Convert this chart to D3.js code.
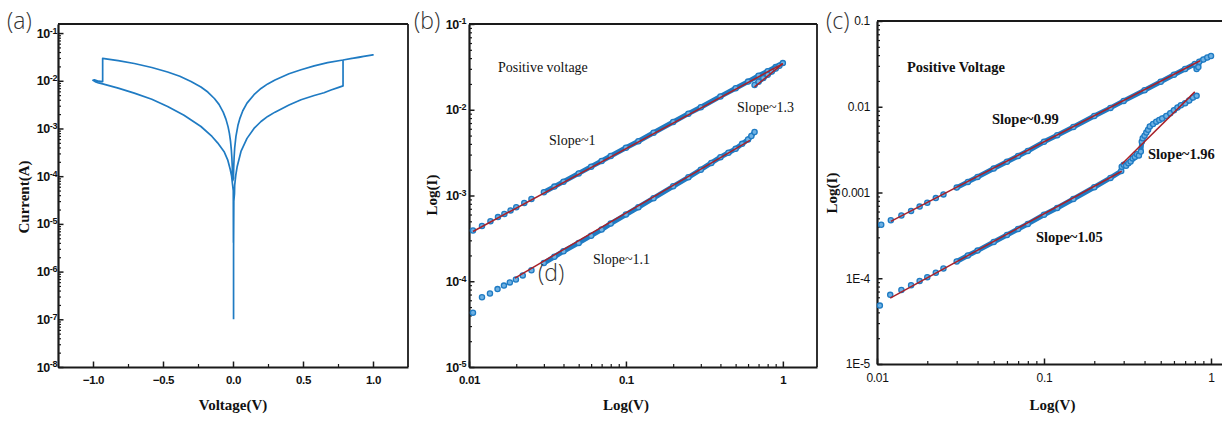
<!DOCTYPE html>
<html><head><meta charset="utf-8">
<script src="https://cdn.jsdelivr.net/npm/d3@7"></script>
<style>body{margin:0;background:#fff}svg{display:block}</style>
</head><body>
<svg id="c" width="1222" height="421"></svg>
<script>
// ---------------- DATA ----------------
// (a) I-V sweep, |I| in A, in sweep order
const aV = [0.004,0.004,0.006,0.0106,0.012,0.02,0.03,0.057,0.1,0.15,0.2,0.248,0.3,0.4,0.486,0.58,0.65,0.7,0.75,0.786,
  0.786,0.85,0.9,0.95,1.0,0.9,0.786,0.676,0.58,0.486,0.4,0.3,0.248,0.2,0.15,0.1,0.07,0.05,0.035,0.021,0.012,0.008,0.005,0.003,
  -0.002,-0.005,-0.008,-0.012,-0.018,-0.026,-0.035,-0.05,-0.07,-0.1,-0.133,-0.18,-0.229,-0.3,-0.38,-0.467,-0.58,-0.705,-0.82,-0.895,-0.931,
  -0.931,-0.96,-0.99,-1.0,-0.985,-0.96,-0.931,
  -0.82,-0.705,-0.58,-0.467,-0.35,-0.229,-0.15,-0.11,-0.062,-0.038,-0.02,-0.01,-0.004,0.002,0.003];
const aI = [1e-7,3e-6,3e-5,4.3e-5,6.5e-5,1.05e-4,1.6e-4,3.3e-4,6.2e-4,1.0e-3,1.4e-3,1.79e-3,2.2e-3,3.1e-3,4.0e-3,4.9e-3,5.6e-3,6.4e-3,7.2e-3,7.8e-3,
  2.73e-2,2.95e-2,3.1e-2,3.3e-2,3.5e-2,3.12e-2,2.72e-2,2.4e-2,2.05e-2,1.7e-2,1.4e-2,1.04e-2,8.6e-3,6.9e-3,5.1e-3,3.4e-3,2.35e-3,1.65e-3,1.15e-3,6.8e-4,3.9e-4,2.5e-4,1.5e-4,9e-5,
  8e-5,1.5e-4,2.4e-4,3.6e-4,5.5e-4,8e-4,1.08e-3,1.55e-3,2.2e-3,3.2e-3,4.25e-3,5.8e-3,7.4e-3,9.7e-3,1.24e-2,1.53e-2,1.9e-2,2.3e-2,2.65e-2,2.85e-2,2.95e-2,
  9.6e-3,9.8e-3,1.05e-2,1.02e-2,9.6e-3,9.0e-3,8.6e-3,
  7.0e-3,5.5e-3,4.1e-3,2.9e-3,1.9e-3,1.1e-3,6.8e-4,5.0e-4,3.2e-4,2.2e-4,1.4e-4,1.0e-4,7e-5,5e-5,4e-6];
const aXTicks = [-1.0,-0.5,0.0,0.5,1.0];
const aXMinor = [-0.75,-0.25,0.25,0.75];
const aYExp = [-8,-7,-6,-5,-4,-3,-2,-1];

// (b) log-log, positive voltage
const bUpV = [0.0106,0.0121,0.0137,0.0153,0.0168,0.0184,0.02,0.0225,0.025,0.03,0.035,0.04,0.05,0.06,0.07,0.08,0.1,0.12,0.15,0.2,0.25,0.3,0.4,0.5,0.6,0.7,0.8,0.9,1.0];
const bUpI = [3.9e-4,4.4e-4,5.0e-4,5.6e-4,6.1e-4,6.7e-4,7.3e-4,8.2e-4,9.1e-4,1.09e-3,1.27e-3,1.45e-3,1.81e-3,2.17e-3,2.53e-3,2.89e-3,3.6e-3,4.3e-3,5.4e-3,7.2e-3,9.0e-3,1.07e-2,1.43e-2,1.78e-2,2.13e-2,2.49e-2,2.82e-2,3.15e-2,3.5e-2];
const bHookV = [0.66,0.7,0.75,0.8,0.85,0.9,0.95];
const bHookI = [1.95e-2,2.12e-2,2.34e-2,2.56e-2,2.79e-2,3.02e-2,3.25e-2];
const bLowV = [0.0106,0.0121,0.0136,0.0152,0.0167,0.0182,0.0199,0.022,0.025,0.03,0.035,0.04,0.05,0.06,0.07,0.08,0.1,0.12,0.15,0.2,0.25,0.3,0.35,0.4,0.45,0.5,0.55,0.6,0.63,0.66];
const bLowI = [4.3e-5,6.5e-5,7.2e-5,8.1e-5,8.9e-5,9.7e-5,1.05e-4,1.17e-4,1.34e-4,1.63e-4,1.93e-4,2.24e-4,2.8e-4,3.4e-4,4.0e-4,4.7e-4,6.0e-4,7.3e-4,9.3e-4,1.28e-3,1.63e-3,2.0e-3,2.4e-3,2.8e-3,3.15e-3,3.5e-3,4.0e-3,4.5e-3,4.95e-3,5.5e-3];
const bFitUp = [[0.0106,3.8e-4],[1.0,3.45e-2]];
const bFitHook = [[0.66,1.85e-2],[1.0,3.45e-2]];
const bFitLow = [[0.0196,1.09e-4],[0.617,4.4e-3]];
const bXTicks = [0.01,0.1,1];
const bYExp = [-5,-4,-3,-2,-1];

// (c) log-log, positive voltage
const cUpV = [0.0106,0.0121,0.014,0.016,0.018,0.02,0.0225,0.025,0.03,0.035,0.04,0.05,0.06,0.07,0.08,0.1,0.12,0.15,0.2,0.25,0.3,0.4,0.5,0.6,0.7,0.8,0.82,0.84,0.85,0.9,0.95,1.0];
const cUpI = [4.2e-4,4.74e-4,5.4e-4,6.1e-4,6.85e-4,7.6e-4,8.6e-4,9.5e-4,1.14e-3,1.33e-3,1.52e-3,1.9e-3,2.28e-3,2.66e-3,3.05e-3,3.9e-3,4.65e-3,5.8e-3,7.8e-3,9.7e-3,1.17e-2,1.56e-2,1.96e-2,2.36e-2,2.76e-2,3.15e-2,2.75e-2,2.9e-2,3.35e-2,3.55e-2,3.75e-2,3.9e-2];
const cLowV = [0.0104,0.012,0.014,0.016,0.018,0.02,0.0225,0.025,0.03,0.035,0.04,0.05,0.06,0.07,0.08,0.1,0.12,0.15,0.2,0.25,0.29];
const cLowI = [4.8e-5,6.4e-5,7.3e-5,8.3e-5,9.3e-5,1.03e-4,1.16e-4,1.3e-4,1.57e-4,1.84e-4,2.1e-4,2.65e-4,3.2e-4,3.75e-4,4.3e-4,5.5e-4,6.6e-4,8.4e-4,1.15e-3,1.48e-3,1.78e-3];
const cHighV = [0.292,0.3,0.31,0.32,0.33,0.34,0.35,0.36,0.37,0.38,0.385,0.39,0.40,0.41,0.42,0.43,0.45,0.47,0.49,0.51,0.54,0.57,0.6,0.63,0.66,0.7,0.74,0.78,0.82];
const cHighI = [2.0e-3,2.1e-3,2.05e-3,2.2e-3,2.3e-3,2.5e-3,2.6e-3,2.8e-3,2.7e-3,3.0e-3,3.9e-3,4.3e-3,4.6e-3,5.0e-3,5.4e-3,5.9e-3,6.3e-3,6.7e-3,7.0e-3,7.3e-3,7.8e-3,8.4e-3,9.1e-3,9.8e-3,1.04e-2,1.1e-2,1.18e-2,1.28e-2,1.34e-2];
const cFitUp = [[0.0121,4.6e-4],[0.86,3.44e-2]];
const cFitLow = [[0.012,5.87e-5],[0.292,1.77e-3]];
const cFitHigh = [[0.292,2.13e-3],[0.80,1.49e-2]];
const cXTicks = [0.01,0.1,1];
const cYTicks = [1e-5,1e-4,1e-3,1e-2,1e-1];
const cYLabels = ["1E-5","1E-4","0.001","0.01","0.1"];

// ---------------- DRAW ----------------
const W = 1222, H = 421;
const svg = d3.select("#c");
svg.append("rect").attr("width", W).attr("height", H).attr("fill", "#fff");

const BLUE = "#1f7bc3", DOTF = "#6fb1e3", RED = "#a8222a", AX = "#1a1a1a";
const TICKFONT = "'Liberation Sans', Arial, sans-serif";
const SERIF = "'Liberation Serif', 'Times New Roman', serif";

function logMinor(lo, hi) { const o = []; for (let e = lo; e < hi; e++) for (let m = 2; m <= 9; m++) o.push(m * Math.pow(10, e)); return o; }

function axes(p) {
  const [L, R] = p.x.range(), [B, T] = p.y.range();
  const g = svg.append("g");
  const gxm = g.append("g").attr("transform", `translate(0,${B})`)
    .call(d3.axisBottom(p.x).tickValues(p.xMinor).tickSize(-3).tickSizeOuter(0).tickFormat(""));
  const gym = g.append("g").attr("transform", `translate(${L},0)`)
    .call(d3.axisLeft(p.y).tickValues(p.yMinor).tickSize(-3).tickSizeOuter(0).tickFormat(""));
  [gxm, gym].forEach(s => { s.select(".domain").remove(); s.selectAll("line").attr("stroke", AX).attr("stroke-width", 1.2); });
  const gx = g.append("g").attr("transform", `translate(0,${B})`)
    .call(d3.axisBottom(p.x).tickValues(p.xTicks).tickSize(-5.5).tickSizeOuter(0).tickPadding(9).tickFormat(p.xFmt));
  const gy = g.append("g").attr("transform", `translate(${L},0)`)
    .call(d3.axisLeft(p.y).tickValues(p.yTicks).tickSize(-5.5).tickSizeOuter(0).tickPadding(p.yPad).tickFormat(p.yFmt));
  [gx, gy].forEach(s => {
    s.select(".domain").attr("stroke", AX).attr("stroke-width", 2.2);
    s.selectAll(".tick line").attr("stroke", AX).attr("stroke-width", 1.5);
    s.selectAll(".tick text").attr("fill", "#111").attr("font-family", TICKFONT)
      .attr("font-size", p.tickSize).attr("font-weight", p.tickWeight).attr("letter-spacing", p.tickLS);
  });
  if (p.sup) {
    gy.selectAll(".tick text").attr("font-size", 12.5).each(function (d) {
      const t = d3.select(this); const e = Math.round(Math.log10(d));
      t.text(null);
      t.append("tspan").text("10");
      t.append("tspan").attr("dy", "-0.45em").attr("font-size", 9).text(String(e));
    });
  }
  g.append("line").attr("x1", L).attr("x2", R).attr("y1", T).attr("y2", T).attr("stroke", AX).attr("stroke-width", 1.8);
  g.append("line").attr("x1", R).attr("x2", R).attr("y1", T).attr("y2", B).attr("stroke", AX).attr("stroke-width", 1.8);
  svg.append("text").attr("x", (L + R) / 2 + p.xtDx).attr("y", 410).attr("text-anchor", "middle")
    .attr("font-family", SERIF).attr("font-weight", "bold").attr("font-size", 15).attr("fill", "#111").text(p.xTitle);
  svg.append("text").attr("transform", `translate(${p.ytX},${p.ytY}) rotate(-90)`).attr("text-anchor", "middle")
    .attr("font-family", SERIF).attr("font-weight", "bold").attr("font-size", 15).attr("fill", "#111").text(p.yTitle);
}

function panelLabel(x, y, t) {
  svg.append("text").attr("x", x).attr("y", y).attr("font-family", "'Open Sans', 'Noto Sans', sans-serif")
    .attr("font-size", 23).attr("font-weight", 300).attr("fill", "#333").text(t);
}
function note(x, y, t, bold, size) {
  svg.append("text").attr("x", x).attr("y", y).attr("font-family", SERIF).attr("font-size", size || 14)
    .attr("font-weight", bold ? "bold" : "normal").attr("fill", "#111").text(t);
}

// ----- panel (a)
const xA = d3.scaleLinear().domain([-1.25, 1.25]).range([58, 408]);
const yA = d3.scaleLog().domain([1e-8, Math.pow(10, -0.81)]).range([367, 24]);
axes({ x: xA, y: yA, xTicks: aXTicks, xMinor: aXMinor, yTicks: aYExp.map(e => Math.pow(10, e)), yMinor: logMinor(-8, -1),
  xFmt: d3.format(".1f"), yFmt: () => "", sup: true, yPad: 1, tickSize: 11.5, tickWeight: "bold", tickLS: -0.4,
  xTitle: "Voltage(V)", xtDx: 0, yTitle: "Current(A)", ytX: 29, ytY: 197 });
svg.append("path").datum(d3.zip(aV, aI)).attr("fill", "none").attr("stroke", BLUE).attr("stroke-width", 1.7)
  .attr("stroke-linejoin", "round")
  .attr("d", d3.line().x(d => xA(d[0])).y(d => yA(d[1])));
panelLabel(7, 29, "(a)");

function scatter(x, y, V, I) {
  const pts = d3.zip(V, I);
  const dense = pts.filter(d => d[0] >= 0.03);
  svg.append("path").datum(dense).attr("fill", "none").attr("stroke", BLUE).attr("stroke-width", 5)
    .attr("stroke-linecap", "round").attr("stroke-linejoin", "round")
    .attr("d", d3.line().x(d => x(d[0])).y(d => y(d[1])));
  svg.append("g").selectAll("circle").data(pts).join("circle")
    .attr("cx", d => x(d[0])).attr("cy", d => y(d[1])).attr("r", 2.6)
    .attr("fill", DOTF).attr("stroke", BLUE).attr("stroke-width", 1.3);
}
function fit(x, y, seg) {
  svg.append("path").datum(seg).attr("fill", "none").attr("stroke", RED).attr("stroke-width", 1.5)
    .attr("d", d3.line().x(d => x(d[0])).y(d => y(d[1])));
}

// ----- panel (b)
const xB = d3.scaleLog().domain([0.01, 1.65]).range([469, 817]);
const yB = d3.scaleLog().domain([1e-5, 1e-1]).range([367, 24]);
axes({ x: xB, y: yB, xTicks: bXTicks, xMinor: logMinor(-2, 0), yTicks: bYExp.map(e => Math.pow(10, e)),
  yMinor: logMinor(-5, -1), xFmt: d => String(d), yFmt: () => "", sup: true, yPad: 3, tickSize: 11.5, tickWeight: "bold", tickLS: -0.4,
  xTitle: "Log(V)", xtDx: -17, yTitle: "Log(I)", ytX: 437, ytY: 195 });
scatter(xB, yB, bUpV, bUpI);
scatter(xB, yB, bHookV, bHookI);
scatter(xB, yB, bLowV, bLowI);
fit(xB, yB, bFitUp); fit(xB, yB, bFitHook); fit(xB, yB, bFitLow);
note(498, 72, "Positive voltage", false, 14);
note(549, 145, "Slope~1", false, 14);
note(737, 112, "Slope~1.3", false, 14);
note(593, 264, "Slope~1.1", false, 14);
panelLabel(414, 29, "(b)");
panelLabel(538, 281, "(d)");

// ----- panel (c)
const xC = d3.scaleLog().domain([0.01, Math.pow(10, (1232 - 877) / 167) * 0.01]).range([877, 1232]);
const yC = d3.scaleLog().domain([1e-5, 1e-1]).range([364, 21]);
axes({ x: xC, y: yC, xTicks: cXTicks, xMinor: logMinor(-2, 0), yTicks: cYTicks, yMinor: logMinor(-5, -1),
  xFmt: d => String(d), yFmt: (d, i) => cYLabels[i], sup: false, yPad: 7, tickSize: 12, tickWeight: "normal", tickLS: -0.3,
  xTitle: "Log(V)", xtDx: -2, yTitle: "Log(I)", ytX: 837, ytY: 193 });
scatter(xC, yC, cUpV, cUpI);
scatter(xC, yC, cLowV, cLowI);
scatter(xC, yC, cHighV, cHighI);
fit(xC, yC, cFitUp); fit(xC, yC, cFitLow); fit(xC, yC, cFitHigh);
note(907, 72, "Positive Voltage", true, 14.5);
note(992, 124, "Slope~0.99", true, 14.5);
note(1148, 159, "Slope~1.96", true, 14.5);
note(1036, 242, "Slope~1.05", true, 14.5);
panelLabel(826, 29, "(c)");
</script>
</body></html>
